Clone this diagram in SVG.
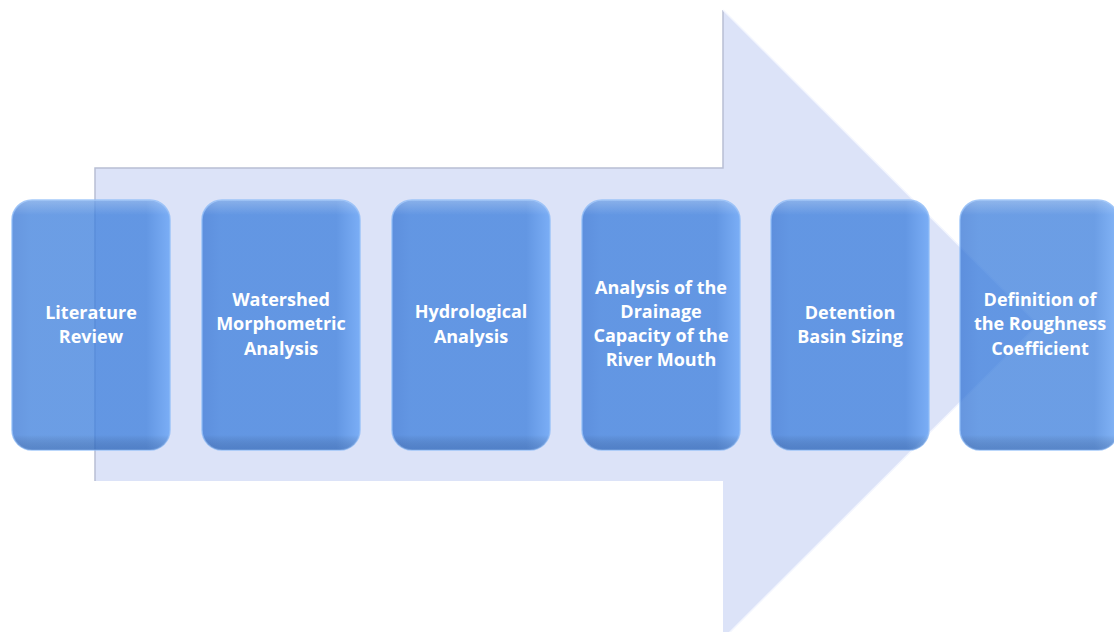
<svg xmlns="http://www.w3.org/2000/svg" width="1114" height="632" viewBox="0 0 1114 632">
<defs>
<linearGradient id="boxg" x1="0" y1="0" x2="1" y2="0">
<stop offset="0" stop-color="#3373d4"/>
<stop offset="0.12" stop-color="#3a7ddc"/>
<stop offset="0.85" stop-color="#3a7ddc"/>
<stop offset="1" stop-color="#5a9cf5"/>
</linearGradient>
<linearGradient id="boxv" x1="0" y1="0" x2="0" y2="1">
<stop offset="0" stop-color="#ffffff" stop-opacity="0.25"/>
<stop offset="0.06" stop-color="#ffffff" stop-opacity="0"/>
<stop offset="0.94" stop-color="#000000" stop-opacity="0"/>
<stop offset="1" stop-color="#1a3c78" stop-opacity="0.25"/>
</linearGradient>
</defs>
<style>
.box{fill:url(#boxg);fill-opacity:0.75;stroke:#8fbcf7;stroke-width:1.5;stroke-opacity:0.8}
.shade{fill:url(#boxv);stroke:none}
.lbl{font-family:"Open Sans","Liberation Sans",sans-serif;font-weight:700;font-size:18px;fill:#ffffff;text-anchor:middle}
</style>
<rect width="1114" height="632" fill="#ffffff"/>
<g id="arrow">
<path d="M95,168 L723,168 L723,10 L1038,324.5 L723,639 L723,481 L95,481 Z" fill="#dce3f8"/>
<path d="M95,481 L95,168 L723,168 L723,10" fill="none" stroke="#b8bfd4" stroke-width="1.5"/>
<path d="M723,10 L1038,324.5 L723,639" fill="none" stroke="#f2f5fe" stroke-width="1.5"/>
</g>
<g id="connectors"></g>
<g id="n1">
<rect class="box" x="12" y="200" width="158" height="250" rx="20"/>
<rect class="shade" x="12" y="200" width="158" height="250" rx="20"/>
<text class="lbl"><tspan x="91" y="319">Literature</tspan><tspan x="91" y="343">Review</tspan></text>
</g>
<g id="n2">
<rect class="box" x="202" y="200" width="158" height="250" rx="20"/>
<rect class="shade" x="202" y="200" width="158" height="250" rx="20"/>
<text class="lbl"><tspan x="281" y="306">Watershed</tspan><tspan x="281" y="330">Morphometric</tspan><tspan x="281" y="355">Analysis</tspan></text>
</g>
<g id="n3">
<rect class="box" x="392" y="200" width="158" height="250" rx="20"/>
<rect class="shade" x="392" y="200" width="158" height="250" rx="20"/>
<text class="lbl"><tspan x="471" y="318">Hydrological</tspan><tspan x="471" y="343">Analysis</tspan></text>
</g>
<g id="n4">
<rect class="box" x="582" y="200" width="158" height="250" rx="20"/>
<rect class="shade" x="582" y="200" width="158" height="250" rx="20"/>
<text class="lbl"><tspan x="661" y="294">Analysis of the</tspan><tspan x="661" y="318">Drainage</tspan><tspan x="661" y="342">Capacity of the</tspan><tspan x="661" y="366">River Mouth</tspan></text>
</g>
<g id="n5">
<rect class="box" x="771" y="200" width="158" height="250" rx="20"/>
<rect class="shade" x="771" y="200" width="158" height="250" rx="20"/>
<text class="lbl"><tspan x="850" y="319">Detention</tspan><tspan x="850" y="343">Basin Sizing</tspan></text>
</g>
<g id="n6">
<rect class="box" x="960" y="200" width="158" height="250" rx="20"/>
<rect class="shade" x="960" y="200" width="158" height="250" rx="20"/>
<text class="lbl"><tspan x="1040" y="306">Definition of</tspan><tspan x="1040" y="330">the Roughness</tspan><tspan x="1040" y="355">Coefficient</tspan></text>
</g>
</svg>
